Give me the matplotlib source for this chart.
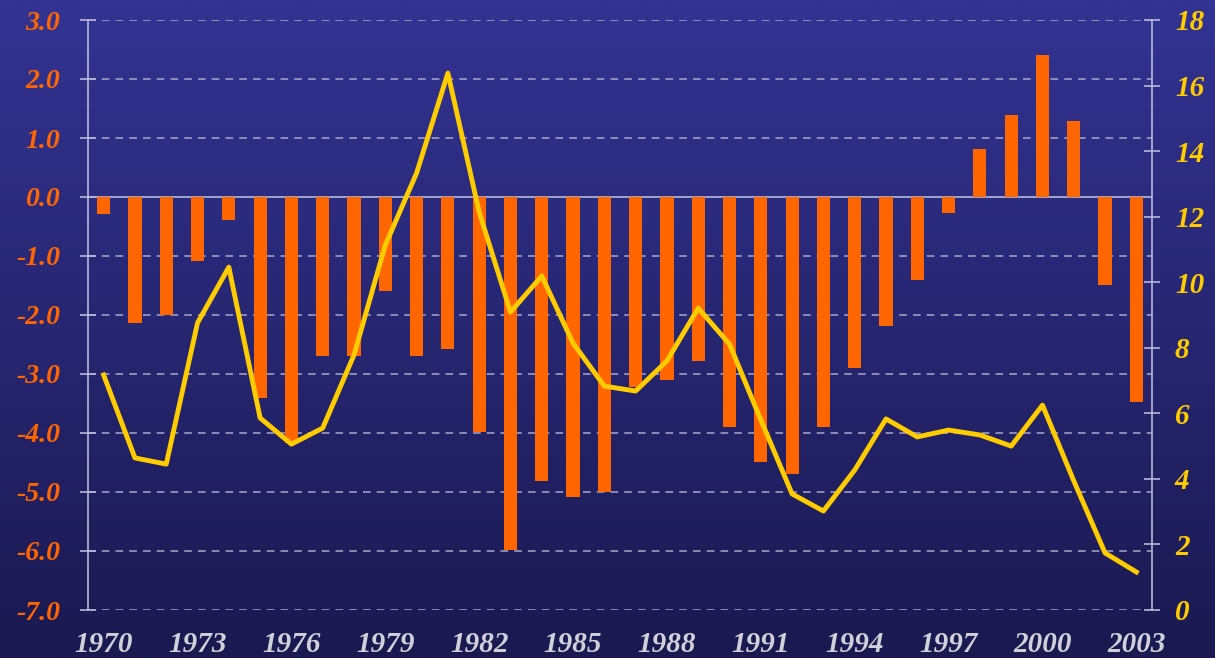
import numpy as np
import matplotlib
matplotlib.use('Agg')
import matplotlib.pyplot as plt
from matplotlib.colors import LinearSegmentedColormap

# data
years = list(range(1970, 2004))
bar_vals = [-0.28, -2.13, -2.0, -1.08, -0.39, -3.4, -4.17, -2.7, -2.7, -1.6,
            -2.7, -2.58, -3.98, -5.98, -4.82, -5.08, -5.0, -3.22, -3.1, -2.78,
            -3.9, -4.5, -4.7, -3.9, -2.9, -2.19, -1.41, -0.27, 0.81, 1.39,
            2.41, 1.29, -1.49, -3.47]
line_vals = [7.17, 4.64, 4.45, 8.76, 10.46, 5.86, 5.06, 5.55, 7.78, 11.13,
             13.33, 16.38, 12.14, 9.09, 10.19, 8.14, 6.83, 6.68, 7.6, 9.21,
             8.11, 5.8, 3.54, 3.02, 4.27, 5.83, 5.28, 5.49, 5.34, 5.0,
             6.25, 3.94, 1.74, 1.16]
left_ticks = [3, 2, 1, 0, -1, -2, -3, -4, -5, -6, -7]
right_ticks = list(range(0, 20, 2))
x_label_years = years[::3]

label_font = dict(family='Liberation Serif', fontstyle='italic', fontweight='bold')

fig = plt.figure(figsize=(12.15, 6.58), dpi=100)

# gradient background
bg = fig.add_axes([0, 0, 1, 1], zorder=-10)
cmap = LinearSegmentedColormap.from_list('bg', ['#1b1950', '#333393'])
bg.imshow(np.linspace(0, 1, 256).reshape(-1, 1), aspect='auto', cmap=cmap,
          origin='lower', extent=[0, 1, 0, 1])
bg.axis('off')

ax = fig.add_axes([88 / 1215, 1 - 610 / 658, (1152 - 88) / 1215, 590 / 658])
ax.patch.set_alpha(0)
x = np.arange(len(years)) + 0.5

ax.bar(x, bar_vals, width=0.42, color='#ff6600', zorder=3)
ax.axhline(0, color='#b8b8d8', lw=1.2, zorder=2)
for t in left_ticks:
    if t != 0:
        ax.axhline(t, color='#a8a8c8', lw=1.1, dashes=(5, 4), zorder=1)

ax.set_xlim(0, len(years))
ax.set_ylim(-7, 3)
ax.set_yticks(left_ticks)
ax.set_yticklabels([f'{t:.1f}' for t in left_ticks], **label_font)
ax.set_xticks(x[::3])
ax.set_xticklabels([str(y) for y in x_label_years], **label_font)

ax.tick_params(axis='y', direction='inout', length=12, width=1.2, color='#b8b8d8',
               labelcolor='#ff6600', pad=14, labelsize=20)
ax.tick_params(axis='x', length=0, labelcolor='#d0d0d8', pad=15, labelsize=21)

for s in ['top', 'bottom', 'right']:
    ax.spines[s].set_visible(False)
ax.spines['left'].set_color('#b8b8d8')
ax.spines['left'].set_linewidth(1.2)

ax2 = ax.twinx()
ax2.plot(x, line_vals, color='#ffcc00', lw=3.5, zorder=5)
ax2.set_ylim(0, 18)
ax2.set_yticks(right_ticks)
ax2.set_yticklabels([str(t) for t in right_ticks], **label_font)
ax2.tick_params(axis='y', direction='inout', length=11, width=1.2, color='#b8b8d8',
                labelcolor='#ffcc00', pad=11, labelsize=21)
for s in ['top', 'bottom', 'left']:
    ax2.spines[s].set_visible(False)
ax2.spines['right'].set_color('#b8b8d8')
ax2.spines['right'].set_linewidth(1.2)

plt.savefig('out.png', dpi=100)
